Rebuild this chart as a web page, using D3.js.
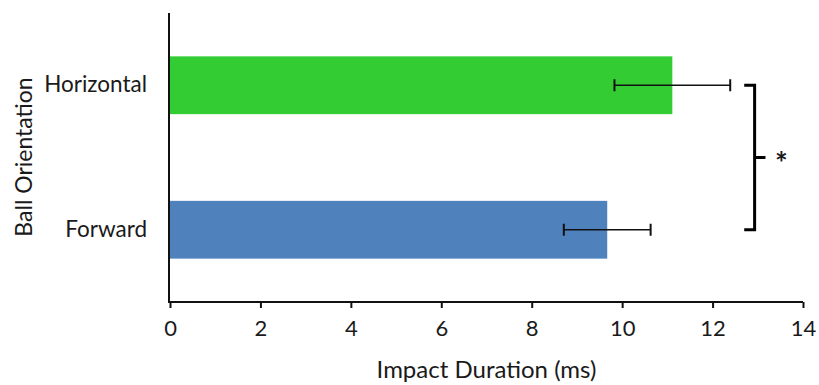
<!DOCTYPE html>
<html>
<head>
<meta charset="utf-8">
<script src="https://cdn.jsdelivr.net/npm/d3@7"></script>
<style>
  html, body { margin: 0; padding: 0; background: #fff; }
  svg text { font-family: Lato, "Open Sans", sans-serif; fill: #1a1a1a; }
</style>
</head>
<body>
<svg id="chart" width="819" height="385"></svg>
<script>
// Impact duration by ball orientation (mean ± SD)
const categories = ["Horizontal", "Forward"];
const means = [11.11, 9.67];
const errors = [1.28, 0.96];
const colors = ["#33CC33", "#4F81BD"];
const xTicks = [0, 2, 4, 6, 8, 10, 12, 14];
const xTitle = "Impact Duration (ms)";
const yTitle = "Ball Orientation";
const sigLabel = "*";
// significance bracket, in data units along x
const bracketX = 12.93, bracketArm = 12.7, bracketTick = 13.17;

const svg = d3.select("#chart");
const fontStack = "Lato, 'Open Sans', sans-serif";

const x = d3.scaleLinear().domain([0, 14]).range([170, 803]);
const y = d3.scaleBand().domain(categories).range([13, 302]).paddingInner(0.6).paddingOuter(0.3);

// bars
svg.append("g").selectAll("rect")
  .data(categories)
  .join("rect")
  .attr("x", x(0))
  .attr("y", d => y(d))
  .attr("width", (d, i) => x(means[i]) - x(0))
  .attr("height", y.bandwidth())
  .attr("fill", (d, i) => colors[i]);

// error bars
const eb = svg.append("g").attr("stroke", "#111").attr("stroke-width", 1.6);
categories.forEach((c, i) => {
  const cy = y(c) + y.bandwidth() / 2;
  const lo = x(means[i] - errors[i]), hi = x(means[i] + errors[i]);
  eb.append("line").attr("x1", lo).attr("x2", hi).attr("y1", cy).attr("y2", cy);
  eb.append("line").attr("x1", lo).attr("x2", lo).attr("y1", cy - 6).attr("y2", cy + 6).attr("stroke-width", 2);
  eb.append("line").attr("x1", hi).attr("x2", hi).attr("y1", cy - 6).attr("y2", cy + 6).attr("stroke-width", 2);
});

// x axis
const xAxis = d3.axisBottom(x).tickValues(xTicks).tickSize(6).tickPadding(12).tickSizeOuter(0);
const gx = svg.append("g").attr("transform", `translate(0,302)`).call(xAxis);
gx.select(".domain").attr("stroke", "#111").attr("stroke-width", 2).attr("d", `M${x(0)},0H${x(14)}`);
gx.selectAll(".tick line").attr("stroke", "#111").attr("stroke-width", 2);
gx.selectAll(".tick text").attr("font-size", 22).attr("fill", "#1a1a1a").style("font-family", fontStack);

// y axis
const yAxis = d3.axisLeft(y).tickSize(0).tickPadding(22);
const gy = svg.append("g").attr("transform", `translate(${x(0) - 1},0)`).call(yAxis);
gy.select(".domain").attr("stroke", "#111").attr("stroke-width", 2).attr("d", `M0,13V303`);
gy.selectAll(".tick text").attr("font-size", 22.5).attr("fill", "#1a1a1a").style("font-family", fontStack);

// axis titles
svg.append("text")
  .attr("x", (x(0) + x(14)) / 2).attr("y", 378)
  .attr("text-anchor", "middle").attr("font-size", 24)
  .text(xTitle);
svg.append("text")
  .attr("transform", `translate(32,157) rotate(-90)`)
  .attr("text-anchor", "middle").attr("font-size", 23)
  .text(yTitle);

// significance bracket
const y1 = y(categories[0]) + y.bandwidth() / 2;
const y2 = y(categories[1]) + y.bandwidth() / 2;
const ym = (y1 + y2) / 2;
svg.append("path")
  .attr("d", `M${x(bracketArm)},${y1}H${x(bracketX)}V${y2}H${x(bracketArm)}M${x(bracketX)},${ym}H${x(bracketTick)}`)
  .attr("fill", "none").attr("stroke", "#000").attr("stroke-width", 3);
svg.append("text")
  .attr("x", x(bracketTick) + 16).attr("y", ym + 16)
  .attr("text-anchor", "middle").attr("font-size", 30).attr("font-weight", "bold")
  .text(sigLabel);
</script>
</body>
</html>
